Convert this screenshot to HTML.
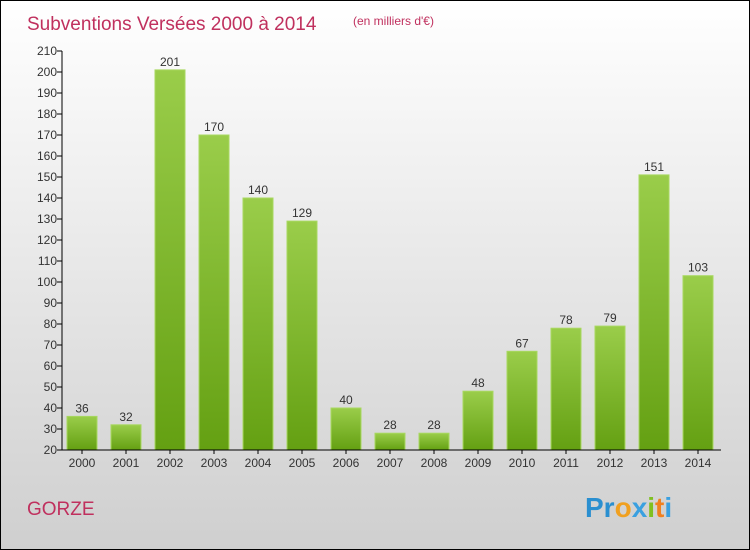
<!DOCTYPE html>
<html><head><meta charset="utf-8"><style>
body{margin:0}
#c{position:relative;width:748px;height:548px;border:1px solid #000;background:linear-gradient(#ffffff,#cfcfcf);font-family:"Liberation Sans",sans-serif;overflow:hidden}
</style></head><body>
<div id="c">
<svg width="748" height="548" id="s">
<text x="26" y="29" font-size="19" fill="#c0305e">Subventions Versées 2000 à 2014</text>
<text x="352" y="24" font-size="12" fill="#c0305e">(en milliers d'€)</text>
<text x="26" y="514" font-size="19" fill="#c0305e">GORZE</text>
<g font-size="28" font-weight="bold" font-family="'Liberation Sans',sans-serif">
<text x="584" y="516"><tspan fill="#2a8fd0">Pr</tspan><tspan fill="#f0a020">o</tspan><tspan fill="#3aa0e0">x</tspan><tspan fill="#80c020">i</tspan><tspan fill="#f08020">t</tspan><tspan fill="#3aa0e0">i</tspan></text>
</g>
<defs><linearGradient id="g" x1="0" y1="0" x2="0" y2="1"><stop offset="0" stop-color="#9acd4a"/><stop offset="1" stop-color="#64a012"/></linearGradient></defs>
<g id="bars"></g><g id="axes"></g>
</svg></div>
<script>
const years=["2000","2001","2002","2003","2004","2005","2006","2007","2008","2009","2010","2011","2012","2013","2014"];
const values=[36,32,201,170,140,129,40,28,28,48,67,78,79,151,103];
const yTicks=[20,30,40,50,60,70,80,90,100,110,120,130,140,150,160,170,180,190,200,210];
const NS="http://www.w3.org/2000/svg";
const y0=449,pxu=399/190;
function y(v){return y0-(v-20)*pxu;}
function x(i){return 81+i*44;}
function mk(t,a,p){const e=document.createElementNS(NS,t);for(const k in a)e.setAttribute(k,a[k]);p.appendChild(e);return e;}
const bars=document.getElementById('bars'),axes=document.getElementById('axes');
values.forEach((v,i)=>{
 const r=mk('rect',{x:x(i)-15,y:y(v),width:30,height:y0-y(v),fill:'url(#g)',stroke:'#a8d860','stroke-width':1},bars);
 
 
 const t=mk('text',{x:x(i),y:y(v)-4,'font-size':12,'text-anchor':'middle',fill:'#333'},bars);t.textContent=v;
 
 
 const l=mk('text',{x:x(i),y:y0+17,'font-size':12,'text-anchor':'middle',fill:'#333'},axes);l.textContent=years[i];
 
 
 mk('line',{x1:x(i),x2:x(i),y1:y0,y2:y0+4,stroke:'#000'},axes);
});
yTicks.forEach(v=>{
 mk('line',{x1:56,x2:61,y1:y(v),y2:y(v),stroke:'#000'},axes);
 const t=mk('text',{x:56,y:y(v)+4,'font-size':12,'text-anchor':'end',fill:'#333'},axes);t.textContent=v;
 
 
});
const ya=mk('line',{x1:61,x2:61,y1:y(210),y2:y0,stroke:'#000'},axes);


const xa=mk('line',{x1:61,x2:720,y1:y0,y2:y0,stroke:'#000'},axes);


</script>
</body></html>
